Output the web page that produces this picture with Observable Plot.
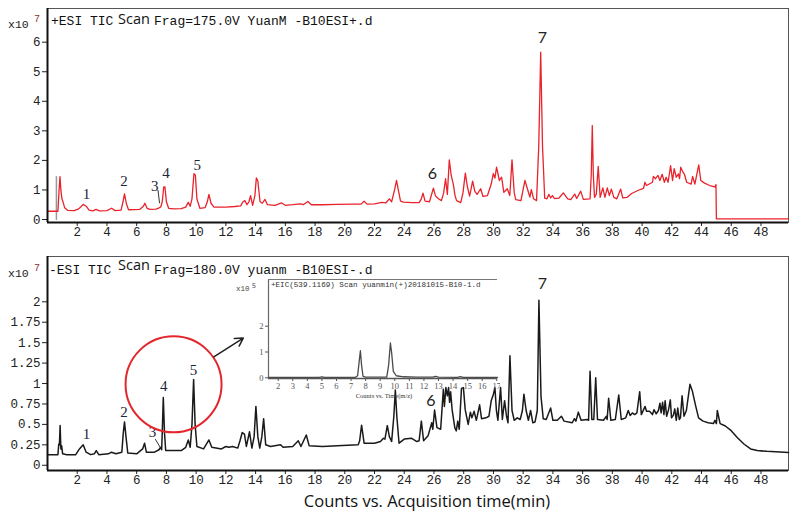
<!DOCTYPE html>
<html><head><meta charset="utf-8">
<script src="https://cdn.jsdelivr.net/npm/d3@7"></script>
<script src="https://cdn.jsdelivr.net/npm/@observablehq/plot@0.6"></script>
<style>
body{margin:0;background:#fff;}
#wrap{position:relative;width:800px;height:516px;overflow:hidden;background:#fff;}
#wrap svg{position:absolute;}
</style></head><body><div id="wrap"></div>
<script>
// ---------- data ----------
const xTicks = [2,4,6,8,10,12,14,16,18,20,22,24,26,28,30,32,34,36,38,40,42,44,46,48];
const posYTicks = [0,1,2,3,4,5,6];
const negYTicks = [0,0.25,0.5,0.75,1,1.25,1.5,1.75,2];
const insetXTicks = [2,3,4,5,6,7,8,9,10,11,12,13,14,15,16,17];
const insetYTicks = [0,1,2];

// +ESI TIC (time min, counts x1e7)
const posTrace = [[0,0.28],[0.7,0.28],[0.78,1.0],[0.84,1.45],[0.9,1.0],[0.97,0.7],[1.03,0.62],[1.15,0.4],[1.35,0.31],[1.8,0.3],[2.1,0.36],[2.4,0.51],[2.6,0.45],[2.8,0.32],[3.05,0.29],[3.27,0.34],[3.5,0.29],[4.0,0.3],[4.31,0.38],[4.55,0.3],[4.95,0.32],[5.08,0.6],[5.18,0.87],[5.3,0.55],[5.45,0.33],[6.2,0.34],[6.45,0.45],[6.55,0.55],[6.7,0.38],[6.9,0.34],[7.3,0.35],[7.55,0.4],[7.63,0.44],[7.72,0.6],[7.82,1.1],[7.9,1.1],[8.0,0.6],[8.15,0.38],[8.5,0.36],[9.0,0.37],[9.3,0.42],[9.47,0.58],[9.6,0.45],[9.72,0.7],[9.85,1.55],[9.95,1.5],[10.05,0.7],[10.25,0.38],[10.6,0.4],[10.75,0.6],[10.86,0.85],[11.0,0.55],[11.2,0.42],[12.0,0.42],[12.6,0.44],[13.0,0.46],[13.15,0.6],[13.28,0.64],[13.42,0.5],[13.55,0.6],[13.66,0.81],[13.8,0.48],[13.95,0.8],[14.05,1.41],[14.15,1.3],[14.3,0.6],[14.45,0.55],[14.63,0.68],[14.8,0.5],[15.3,0.48],[15.75,0.56],[16.0,0.48],[16.5,0.5],[17.03,0.53],[17.2,0.5],[17.52,0.61],[17.75,0.5],[18.5,0.5],[19.5,0.51],[20.5,0.52],[21.1,0.52],[21.3,0.62],[21.5,0.52],[22.0,0.53],[22.5,0.58],[22.75,0.56],[23.0,0.7],[23.15,0.6],[23.35,1.0],[23.48,1.32],[23.6,1.0],[23.75,0.62],[23.95,0.59],[24.5,0.57],[25.0,0.57],[25.15,0.7],[25.26,0.89],[25.4,0.62],[25.7,0.6],[25.96,1.06],[26.1,0.8],[26.3,0.7],[26.5,0.64],[26.65,0.9],[26.78,1.38],[26.9,0.85],[27.03,2.02],[27.16,1.49],[27.3,1.2],[27.42,0.8],[27.52,0.64],[27.8,0.57],[27.95,0.9],[28.11,1.57],[28.25,1.1],[28.4,0.79],[28.6,1.3],[28.75,0.95],[28.9,0.85],[29.14,1.04],[29.3,0.78],[29.6,0.81],[29.85,1.2],[29.99,1.55],[30.1,1.4],[30.21,1.77],[30.4,1.32],[30.55,1.43],[30.7,0.92],[30.93,1.04],[31.1,0.81],[31.25,2.02],[31.4,0.9],[31.5,0.67],[31.85,0.64],[32.12,1.32],[32.25,1.1],[32.45,0.76],[32.55,1.01],[32.7,0.7],[32.9,0.64],[33.05,2.5],[33.18,5.66],[33.3,2.5],[33.45,0.72],[33.6,0.7],[33.73,0.85],[33.85,0.73],[33.97,0.81],[34.1,0.71],[34.4,0.72],[34.7,0.9],[35.0,0.7],[35.2,0.67],[35.47,0.86],[35.6,0.71],[35.87,0.96],[36.05,0.68],[36.5,0.7],[36.58,1.5],[36.65,3.18],[36.72,1.5],[36.8,0.75],[36.92,0.86],[37.05,1.8],[37.18,0.75],[37.36,1.07],[37.5,0.75],[37.66,1.07],[37.8,0.81],[37.93,1.03],[38.1,0.75],[38.3,0.7],[38.56,1.03],[38.7,0.73],[39.0,0.75],[39.3,0.88],[39.75,0.99],[40.1,1.05],[40.19,1.26],[40.3,1.15],[40.7,1.26],[40.76,1.46],[40.9,1.38],[41.07,1.49],[41.2,1.32],[41.35,1.53],[41.5,1.26],[41.62,1.43],[41.75,1.26],[41.92,1.82],[42.05,1.32],[42.16,1.72],[42.3,1.43],[42.45,1.54],[42.52,1.38],[42.6,1.77],[42.75,1.6],[42.85,1.53],[43.0,1.26],[43.3,1.2],[43.4,1.46],[43.55,1.2],[43.81,1.85],[43.95,1.32],[44.2,1.23],[44.55,1.15],[44.9,1.1],[44.97,1.18],[45.0,0.02],[49.85,0.02]];

// -ESI TIC (time min, counts x1e7)
const negTrace = [[0,0.13],[0.7,0.13],[0.76,0.26],[0.8,0.25],[0.85,0.485],[0.9,0.2],[0.95,0.24],[1.02,0.14],[1.3,0.13],[1.9,0.13],[2.15,0.2],[2.4,0.25],[2.6,0.16],[2.9,0.13],[3.15,0.14],[3.28,0.18],[3.45,0.13],[4.1,0.14],[4.3,0.16],[4.6,0.14],[5.0,0.16],[5.1,0.4],[5.18,0.53],[5.28,0.35],[5.4,0.15],[6.0,0.14],[6.4,0.2],[6.53,0.27],[6.65,0.16],[7.2,0.16],[7.5,0.19],[7.6,0.22],[7.68,0.19],[7.72,0.4],[7.79,0.83],[7.87,0.4],[7.95,0.18],[8.4,0.18],[9.0,0.18],[9.3,0.22],[9.47,0.31],[9.6,0.22],[9.72,0.5],[9.83,1.05],[9.93,0.5],[10.05,0.23],[10.5,0.2],[10.86,0.31],[11.05,0.22],[11.7,0.2],[12.0,0.23],[12.2,0.22],[12.45,0.23],[12.8,0.21],[12.95,0.3],[13.1,0.4],[13.25,0.38],[13.38,0.23],[13.59,0.41],[13.75,0.21],[13.9,0.35],[14.02,0.72],[14.15,0.35],[14.28,0.21],[14.42,0.35],[14.54,0.57],[14.68,0.25],[15.0,0.23],[15.68,0.25],[15.85,0.22],[16.5,0.23],[16.87,0.3],[17.05,0.23],[17.41,0.37],[17.6,0.24],[18.5,0.23],[19.5,0.24],[20.9,0.25],[21.0,0.3],[21.13,0.49],[21.3,0.27],[22.0,0.27],[22.4,0.29],[22.6,0.33],[22.7,0.32],[22.86,0.485],[23.0,0.35],[23.15,0.29],[23.3,0.6],[23.4,0.92],[23.5,0.6],[23.65,0.27],[24.0,0.32],[24.5,0.33],[24.85,0.29],[25.0,0.3],[25.15,0.54],[25.3,0.3],[25.6,0.36],[25.85,0.52],[25.92,0.44],[26.04,0.675],[26.2,0.46],[26.45,0.44],[26.63,0.93],[26.7,0.72],[26.8,0.95],[26.9,0.85],[26.98,0.95],[27.05,0.77],[27.12,0.9],[27.22,0.68],[27.4,0.46],[27.5,0.42],[27.6,0.54],[27.7,0.44],[27.85,0.94],[27.98,0.95],[28.1,0.68],[28.3,0.5],[28.45,0.65],[28.55,0.58],[28.7,0.66],[28.85,0.55],[29.07,0.74],[29.2,0.57],[29.5,0.58],[29.7,0.6],[29.85,0.79],[30.0,0.87],[30.1,0.95],[30.2,0.67],[30.3,0.55],[30.48,0.95],[30.6,0.56],[30.75,0.79],[30.88,0.6],[30.98,0.52],[31.11,1.34],[31.25,0.67],[31.4,0.55],[31.6,0.58],[31.8,0.56],[31.95,0.67],[32.05,0.87],[32.2,0.67],[32.35,0.55],[32.5,0.67],[32.65,0.52],[32.8,0.53],[32.95,0.67],[33.06,2.02],[33.2,0.84],[33.35,0.57],[33.55,0.56],[33.85,0.7],[34.0,0.55],[34.3,0.55],[34.57,0.6],[34.75,0.54],[35.3,0.52],[35.45,0.57],[35.55,0.54],[35.71,0.65],[35.9,0.55],[36.3,0.56],[36.4,0.55],[36.5,1.15],[36.62,0.56],[36.75,0.56],[36.88,1.07],[37.0,0.56],[37.4,0.55],[37.6,0.6],[37.65,0.56],[37.75,0.82],[37.9,0.55],[38.2,0.56],[38.43,0.86],[38.6,0.56],[38.9,0.58],[39.07,0.67],[39.2,0.61],[39.35,0.64],[39.5,0.62],[39.65,0.64],[39.84,0.9],[39.95,0.62],[40.2,0.72],[40.3,0.66],[40.5,0.66],[40.7,0.62],[40.8,0.68],[40.95,0.63],[41.1,0.67],[41.2,0.76],[41.28,0.64],[41.38,0.77],[41.47,0.62],[41.55,0.79],[41.65,0.6],[41.78,0.68],[41.9,0.8],[41.98,0.58],[42.1,0.61],[42.2,0.69],[42.3,0.55],[42.4,0.7],[42.5,0.56],[42.58,0.58],[42.69,0.85],[42.82,0.6],[42.98,0.67],[43.22,0.99],[43.38,0.91],[43.6,0.73],[43.8,0.58],[44.1,0.54],[44.45,0.52],[44.8,0.51],[44.9,0.55],[45.0,0.51],[45.06,0.67],[45.25,0.51],[45.6,0.48],[45.95,0.43],[46.4,0.34],[46.85,0.26],[47.3,0.2],[47.75,0.18],[48.4,0.17],[49.85,0.155]];

// inset +EIC(539.1169) (time min, counts x1e5)
const eicTrace = [[1.33,0.02],[4.8,0.02],[5.0,0.035],[5.2,0.02],[7.3,0.02],[7.45,0.08],[7.55,0.6],[7.64,1.05],[7.72,0.5],[7.82,0.06],[8.0,0.03],[9.45,0.03],[9.58,0.5],[9.7,1.35],[9.78,1.0],[9.9,0.25],[10.1,0.08],[10.6,0.04],[11.5,0.03],[12.6,0.03],[12.8,0.06],[13.0,0.03],[14.3,0.02],[14.5,0.045],[14.7,0.02],[17.05,0.02]];

// peak labels
const posPeaksSerif = [{n:"1",t:2.62,v:0.85},{n:"2",t:5.15,v:1.29},{n:"3",t:7.22,v:1.13},{n:"4",t:7.98,v:1.57},{n:"5",t:10.08,v:1.83}];
const posPeaksSans = [{n:"6",t:25.9,v:1.55},{n:"7",t:33.3,v:6.15}];
const negPeaksSerif = [{n:"1",t:2.62,v:0.376},{n:"2",t:5.15,v:0.647},{n:"3",t:7.06,v:0.40},{n:"4",t:7.82,v:0.97},{n:"5",t:9.82,v:1.164}];
const negPeaksSans = [{n:"6",t:25.8,v:0.79},{n:"7",t:33.3,v:2.22}];
const posLeader = [{t1:7.43,v1:1.0,t2:7.54,v2:0.55}];
const negLeader = [{t1:7.25,v1:0.32,t2:7.58,v2:0.22}];
const posMarker = [{t:0.6,from:-0.03,to:1.45}];
const circleNote = [{t:8.48,v:0.99}];
const arrowNote = [{t1:11.19,v1:1.326,t2:13.17,v2:1.556}];

// ---------- layout ----------
const X_DOMAIN = [0, 49.85];
const POS_Y = [-0.1015, 7.14];
const NEG_Y = [-0.064, 2.554];
const INSET_X = [1.334, 17.05];
const INSET_Y = [-0.027, 3.81];
const wrap = document.getElementById("wrap");
const axisStyle = {fontFamily:"'Liberation Mono', monospace", fontSize:"12.5px", color:"#222", background:"transparent", overflow:"visible"};
const fmt = d => String(d);

function panel(trace, yDomain, yTicks, color, sw, serifLabels, sansLabels, leader, extra) {
  return Plot.plot({
    width:800, height:242, marginLeft:47, marginRight:12, marginTop:8, marginBottom:20,
    style: axisStyle,
    x:{domain:X_DOMAIN, ticks:xTicks, tickSize:4, tickPadding:1, label:null, tickFormat:fmt},
    y:{domain:yDomain, ticks:yTicks, tickSize:5, tickPadding:2, label:null, tickFormat:fmt},
    marks:[
      Plot.frame({stroke:"#555", strokeWidth:1}),
      ...extra.before,
      Plot.line(trace, {x:d=>d[0], y:d=>d[1], stroke:color, strokeWidth:sw, strokeLinejoin:"round"}),
      Plot.ruleX([X_DOMAIN[0]], {stroke:"#111", strokeWidth:2}),
      Plot.ruleY([yDomain[0]], {stroke:"#111", strokeWidth:2}),
      Plot.link(leader, {x1:"t1", y1:"v1", x2:"t2", y2:"v2", stroke:"#333", strokeWidth:1}),
      Plot.text(serifLabels, {x:"t", y:"v", text:"n", fontFamily:"'Liberation Serif', serif", fontSize:15, fill:"#1d2638"}),
      Plot.text(sansLabels, {x:"t", y:"v", text:"n", fontFamily:"Lato, sans-serif", fontSize:16, fill:"#222"}),
      ...extra.after
    ]
  });
}

const topPanel = panel(posTrace, POS_Y, posYTicks, "#e8232b", 1.3, posPeaksSerif, posPeaksSans, posLeader,
  {before:[Plot.ruleX(posMarker, {x:"t", y1:"from", y2:"to", stroke:"#999", strokeWidth:1.5})], after:[]});
topPanel.style.left = "0px"; topPanel.style.top = "0px";
wrap.appendChild(topPanel);

const botPanel = panel(negTrace, NEG_Y, negYTicks, "#1a1a1a", 1.5, negPeaksSerif, negPeaksSans, negLeader,
  {before:[], after:[
    Plot.dot(circleNote, {x:"t", y:"v", r:48, stroke:"#e3262c", strokeWidth:2, fill:"none"}),
    Plot.arrow(arrowNote, {x1:"t1", y1:"v1", x2:"t2", y2:"v2", stroke:"#222", strokeWidth:1.5, headLength:9})
  ]});
botPanel.style.left = "0px"; botPanel.style.top = "248px";
wrap.appendChild(botPanel);

const insetPanel = Plot.plot({
  width:275, height:130, marginLeft:43, marginRight:3, marginTop:7, marginBottom:24,
  style:{fontFamily:"'Liberation Serif', serif", fontSize:"8.5px", color:"#555", background:"transparent", overflow:"hidden"},
  x:{domain:INSET_X, ticks:insetXTicks, tickSize:3, tickPadding:1, label:null, tickFormat:fmt},
  y:{domain:INSET_Y, ticks:insetYTicks, tickSize:3, tickPadding:2, label:null, tickFormat:fmt},
  marks:[
    Plot.ruleX([INSET_X[0]], {stroke:"#666", strokeWidth:1.2}),
    Plot.ruleY([INSET_Y[0]], {stroke:"#555", strokeWidth:1.5}),
    Plot.ruleY([INSET_Y[1]], {stroke:"#777", strokeWidth:1}),
    Plot.line(eicTrace, {x:d=>d[0], y:d=>d[1], stroke:"#4a4a4a", strokeWidth:1.3})
  ]
});
insetPanel.style.left = "225px"; insetPanel.style.top = "272px";
wrap.appendChild(insetPanel);

// ---------- text overlay ----------
const ov = d3.select(wrap).append("svg").attr("width",800).attr("height",516).style("left","0px").style("top","0px").style("pointer-events","none");
function txt(x,y,s,fam,size,fill,anchor,weight){
  return ov.append("text").attr("x",x).attr("y",y).attr("font-family",fam).attr("font-size",size)
    .attr("fill",fill||"#222").attr("text-anchor",anchor||"start").attr("font-weight",weight||"normal").text(s);
}
const MONO = "'Liberation Mono', monospace";
const SANS = "'Open Sans', sans-serif";
// top title
txt(51,25,"+ESI TIC",MONO,13,"#111");
txt(118,24,"Scan",SANS,14.5,"#111");
txt(154,25,"Frag=175.0V YuanM -B10ESI+.d",MONO,13,"#111");
txt(8,28,"x10",MONO,11.5,"#222");
txt(34,22,"7",MONO,10,"#8a3030");
// bottom title
txt(49,274,"-ESI TIC",MONO,13,"#111");
txt(118,270,"Scan",SANS,14.5,"#111");
txt(154,274,"Frag=180.0V yuanm -B10ESI-.d",MONO,13,"#111");
txt(8,277,"x10",MONO,11.5,"#222");
txt(34,271,"7",MONO,10,"#8a3030");
// inset texts
txt(236,291,"x10",MONO,7.5,"#444");
txt(252,288,"5",MONO,6.5,"#444");
txt(271,287,"+EIC(539.1169) Scan yuanmin(+)20181015-B10-1.d",MONO,7.6,"#333");
txt(384,397.5,"Counts vs. Time(m/z)","'Liberation Serif', serif",6.5,"#333","middle");
// caption
txt(427,507,"Counts vs. Acquisition time(min)",SANS,16.5,"#111","middle");
</script></body></html>
